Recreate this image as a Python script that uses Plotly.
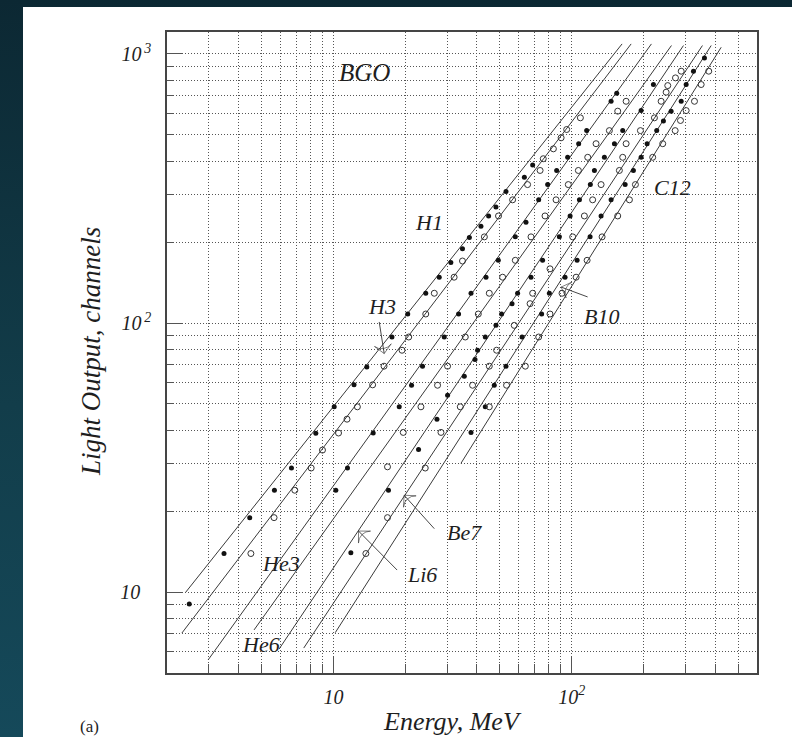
import math
import plotly.graph_objects as go

# ---------------- data ----------------
# fitted lines: start / end points (energy MeV, light output channels)
line_names = ["H1", "H3", "He3", "He6", "Li6", "Be7", "B10", "C12"]
line_e0 = [2.40, 2.31, 2.975, 4.64, 5.91, 7.50, 10.17, 34.3]
line_l0 = [10.0, 7.04, 5.59, 7.23, 6.14, 6.19, 7.06, 30.1]
line_e1 = [162.8, 177.7, 216.2, 262.4, 294.7, 354.1, 385.3, 424.4]
line_l1 = [1090, 1090, 1090, 1075, 1075, 1075, 1075, 1059]

# measured points (filled = H1, He3, Li6, B10 ; open = H3, He6, Be7, C12)
h1_e = [2.48, 3.47, 4.45, 5.65, 6.66, 8.43, 10.07, 12.2, 13.8, 17.6, 20.5,
        24.4, 27.8, 31.1, 34.8, 37.2, 41.6, 44.8, 48.1, 53.0, 63.3, 68.6]
h1_l = [9.03, 13.9, 18.9, 23.9, 28.9, 38.9, 48.8, 58.9, 68.6, 88.7, 108,
        129, 148, 168, 189, 208, 229, 250, 270, 308, 348, 387]

h3_e = [4.50, 5.63, 6.88, 8.06, 8.99, 10.5, 11.4, 12.6, 14.6, 16.3, 19.4,
        20.7, 24.4, 26.5, 32.1, 34.8, 43.0, 49.3, 56.5, 65.3, 73.7, 76.0,
        83.8, 90.3, 95.3, 108.8]
h3_l = [13.9, 18.9, 23.9, 28.9, 33.7, 39.0, 43.9, 48.8, 58.9, 69.1, 79.2,
        88.7, 108, 129, 148, 170, 209, 250, 287, 327, 369, 408,
        444, 488, 524, 579]

he3_e = [10.23, 11.45, 14.68, 18.88, 21.27, 23.65, 29.18, 33.51, 37.79, 43.69,
         49.2, 58.0, 64.3, 72.7, 79.3, 86.5, 96.2, 107.0, 115.6, 146.4, 154.6]
he3_l = [23.9, 28.9, 39.0, 48.8, 58.7, 69.1, 88.7, 108, 129, 148,
         171, 209, 237, 287, 327, 369, 413, 464, 519, 667, 715]

he6_e = [16.86, 19.63, 23.29, 27.35, 30.13, 35.76, 40.55, 45.1, 51.3, 58.0,
         67.5, 77.3, 86.0, 96.8, 106.7, 116.8, 126.6, 144.0, 156.1, 169.3]
he6_l = [29.2, 39.2, 48.8, 58.7, 69.1, 88.7, 108, 129, 148, 171,
         209, 250, 287, 327, 369, 413, 464, 519, 613, 667]

li6_e = [11.83, 17.02, 22.76, 27.19, 30.13, 35.42, 39.28, 40.27, 43.39, 48.11,
         50.8, 56.2, 59.3, 67.5, 75.5, 88.8, 98.5, 107.8, 119.8, 124.6,
         137.2, 151.2, 163.8, 195.7, 220.4]
li6_l = [14.0, 23.9, 33.9, 43.9, 53.9, 63.4, 73.1, 79.2, 88.7, 98,
         108, 118, 129, 148, 171, 209, 250, 287, 327, 369,
         413, 464, 519, 616, 770]

be7_e = [13.68, 16.86, 24.28, 28.27, 34.07, 38.37, 45.1, 48.4, 57.4, 66.9,
         68.6, 81.1, 101.0, 113.1, 122.5, 132.9, 158.6, 163.8, 169.3, 194.4,
         222.6, 237.5, 249.3, 253.2, 272.8, 288.3]
be7_l = [13.9, 18.9, 28.9, 39.2, 48.8, 58.7, 69.1, 79.2, 98, 118,
         129, 159, 209, 250, 287, 327, 369, 413, 464, 519,
         579, 667, 721, 763, 815, 863]

b10_e = [37.79, 43.39, 47.33, 53.0, 61.9, 74.8, 80.6, 93.8, 105.4, 119.5,
         132.9, 146.4, 167.7, 181.6, 195.7, 207.4, 227.6, 242.8, 261.6, 288.3,
         302.5, 324.6, 361.0]
b10_l = [39.2, 48.8, 58.7, 69.1, 88.7, 108, 129, 148, 171, 209,
         250, 287, 327, 369, 413, 464, 519, 563, 613, 667,
         770, 863, 967]

c12_e = [45.1, 53.3, 63.9, 72.7, 81.1, 91.1, 104.4, 116.1, 134.2, 156.1,
         174.8, 185.2, 218.9, 241.2, 272.0, 286.3, 302.5, 327.8, 349.7, 376.3]
c12_l = [48.8, 58.7, 69.1, 88.7, 108, 129, 148, 171, 209, 250,
         287, 327, 413, 464, 519, 566, 616, 667, 770, 863]

filled_sets = [(h1_e, h1_l), (he3_e, he3_l), (li6_e, li6_l), (b10_e, b10_l)]
open_sets = [(h3_e, h3_l), (he6_e, he6_l), (be7_e, be7_l), (c12_e, c12_l)]

# labels (text, energy, light output) and arrows (tip energy, tip output, tail energy, tail output)
label_text = ["BGO", "H1", "H3", "He3", "He6", "Li6", "Be7", "B10", "C12"]
label_e = [13.5, 25.2, 16.06, 6.01, 4.95, 23.6, 35.4, 132.9, 265.7]
label_l = [855, 237, 115, 12.8, 6.36, 11.66, 16.7, 105.3, 320]
arrow_tip_e = [16.33, 12.74, 19.8, 90.3]
arrow_tip_l = [77.0, 16.85, 22.9, 136]
arrow_tail_e = [15.56, 18.5, 26.5, 116.7]
arrow_tail_l = [100.9, 12.07, 17.2, 125]

x_major = [10, 100]
x_major_text = ["10", "10<sup>2</sup>"]
x_minor = [3, 4, 5, 6, 7, 8, 9, 20, 30, 40, 50, 60, 70, 80, 90, 200, 300, 400, 500]
y_major = [10, 100, 1000]
y_major_text = ["10<sup>\u2007\u2009\u200a</sup>", "10<sup>\u20092</sup>", "10<sup>\u20093</sup>"]
y_minor = [6, 7, 8, 9, 20, 30, 40, 50, 60, 70, 80, 90, 200, 300, 400, 500, 600, 700, 800, 900]
x_range = [2, 600]
y_range = [5, 1207]

# ---------------- figure ----------------
LINE = "#3a3a3a"
SERIF = "Liberation Serif"
TXT = "#1e1e1e"
GRID = "#555555"
DOTS = "1px,2px"

fig = go.Figure()

for i in range(len(line_names)):
    fig.add_trace(go.Scatter(x=[line_e0[i], line_e1[i]], y=[line_l0[i], line_l1[i]],
                             mode="lines", line=dict(color=LINE, width=1),
                             name=line_names[i], showlegend=False, hoverinfo="skip"))

for e, l in filled_sets:
    fig.add_trace(go.Scatter(x=e, y=l, mode="markers", showlegend=False,
                             marker=dict(symbol="circle", size=5, color="#111",
                                         line=dict(width=0))))
for e, l in open_sets:
    fig.add_trace(go.Scatter(x=e, y=l, mode="markers", showlegend=False,
                             marker=dict(symbol="circle-open", size=6, color="#333",
                                         line=dict(width=1))))

# label arrows (open heads)
for te, tl, ae, al in zip(arrow_tip_e, arrow_tip_l, arrow_tail_e, arrow_tail_l):
    fig.add_trace(go.Scatter(x=[ae, te], y=[al, tl], mode="lines+markers",
                             line=dict(color="#333", width=0.9), showlegend=False,
                             hoverinfo="skip",
                             marker=dict(symbol="arrow-wide-open", size=[0, 12],
                                         angleref="previous", color="#333",
                                         line=dict(width=0.9, color="#333"))))

axis_common = dict(type="log", showline=True, linecolor="#454545", linewidth=1.5,
                   mirror=True, showgrid=True, gridcolor=GRID, gridwidth=1,
                   griddash=DOTS, zeroline=False, ticks="inside", ticklen=17,
                   tickcolor="#555", tickwidth=1.2, tickmode="array",
                   tickfont=dict(family=SERIF, size=20, color=TXT, style="italic"))

fig.update_layout(
    width=792, height=737, autosize=False,
    margin=dict(l=167, r=35, t=32, b=64),
    paper_bgcolor="rgba(0,0,0,0)", plot_bgcolor="white",
    xaxis=dict(axis_common, range=[math.log10(x_range[0]), math.log10(x_range[1])],
               tickvals=x_major, ticktext=x_major_text, ticklabelstandoff=5,
               minor=dict(tickmode="array", tickvals=x_minor, ticks="inside", ticklen=9,
                          tickcolor="#555", tickwidth=1, showgrid=True,
                          gridcolor=GRID, gridwidth=1, griddash=DOTS)),
    yaxis=dict(axis_common, range=[math.log10(y_range[0]), math.log10(y_range[1])],
               tickvals=y_major, ticktext=y_major_text, ticklabelstandoff=10, ticklen=16,
               minor=dict(tickmode="array", tickvals=y_minor, ticks="inside", ticklen=7,
                          tickcolor="#555", tickwidth=1, showgrid=True,
                          gridcolor=GRID, gridwidth=1, griddash=DOTS)),
)

# white panel (dark frame shows on the left and top)
fig.add_shape(type="rect", xref="paper", yref="paper",
              x0=(23 - 167) / 590, x1=(800 - 167) / 590,
              y0=(673 - 745) / 641, y1=(673 - 7) / 641,
              fillcolor="white", line=dict(width=0), layer="below")

for t, e, l in zip(label_text, label_e, label_l):
    fig.add_annotation(x=math.log10(e), y=math.log10(l), xref="x", yref="y",
                       text=t, showarrow=False, xanchor="center", yanchor="middle",
                       font=dict(family=SERIF, size=25 if t == "BGO" else 22,
                                 color=TXT, style="italic"))

fig.add_annotation(x=(452 - 167) / 590, y=(673 - 721) / 641, xref="paper", yref="paper",
                   text="Energy, MeV", showarrow=False, xanchor="center", yanchor="middle",
                   font=dict(family=SERIF, size=26, color=TXT, style="italic"))
fig.add_annotation(x=(91 - 167) / 590, y=(673 - 352) / 641, xref="paper", yref="paper",
                   text="Light Output, channels", showarrow=False, textangle=-90,
                   xanchor="center", yanchor="middle",
                   font=dict(family=SERIF, size=27, color=TXT, style="italic"))
fig.add_annotation(x=(89 - 167) / 590, y=(673 - 726) / 641, xref="paper", yref="paper",
                   text="(a)", showarrow=False, xanchor="center", yanchor="middle",
                   font=dict(family=SERIF, size=17, color=TXT))

post = ("document.body.style.margin='0';"
        "document.body.style.overflow='hidden';"
        "document.body.style.background='linear-gradient(to bottom, #0c2833 0%, #123d4a 55%, #15495a 100%)';")

fig.write_html("out.html", post_script=post, config={"displayModeBar": False})
